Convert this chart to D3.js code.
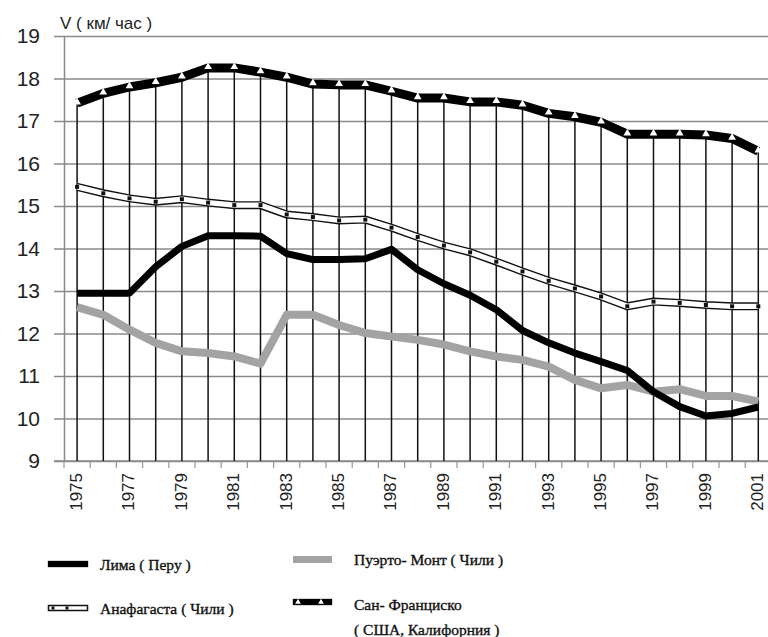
<!DOCTYPE html>
<html>
<head>
<meta charset="utf-8">
<script src="https://cdn.jsdelivr.net/npm/d3@7"></script>
<style>
  body { margin: 0; background: #fff; }
  svg { display: block; }
</style>
</head>
<body>
<script>
// years on the category axis
const years = d3.range(1975, 2002);
const yearLabels = years.filter(y => y % 2 === 1);
const yTicks = d3.range(9, 20);

// speed, km/h
const lima = [12.95, 12.95, 12.95, 13.57, 14.05, 14.3, 14.3, 14.29, 13.88, 13.74, 13.74, 13.76, 13.98,
  13.5, 13.17, 12.9, 12.56, 12.07, 11.78, 11.54, 11.34, 11.13, 10.63, 10.28, 10.06, 10.12, 10.27];
const puertoMontt = [12.62, 12.44, 12.09, 11.78, 11.58, 11.54, 11.46, 11.29, 12.44, 12.44, 12.2, 12.01, 11.93,
  11.85, 11.74, 11.58, 11.46, 11.38, 11.22, 10.91, 10.71, 10.79, 10.63, 10.69, 10.53, 10.53, 10.4];
const antofagasta = [15.45, 15.3, 15.18, 15.1, 15.16, 15.08, 15.02, 15.02, 14.8, 14.74, 14.66, 14.68, 14.49,
  14.27, 14.07, 13.91, 13.69, 13.46, 13.24, 13.06, 12.87, 12.64, 12.75, 12.72, 12.67, 12.64, 12.64];
const sanFrancisco = [17.42, 17.65, 17.8, 17.9, 18.03, 18.25, 18.25, 18.15, 18.03, 17.87, 17.85, 17.85, 17.7,
  17.54, 17.54, 17.45, 17.45, 17.37, 17.18, 17.1, 16.97, 16.69, 16.69, 16.69, 16.67, 16.59, 16.29];

const W = 768, H = 637;
const margin = { left: 64, top: 36, bottom: 461 };

const svg = d3.select('body').append('svg')
  .attr('width', W).attr('height', H);

const x = d3.scaleBand().domain(years).range([margin.left, margin.left + 27 * 26.2]).padding(0);
const cx = d => x(d) + x.bandwidth() / 2;
const y = d3.scaleLinear().domain([9, 19]).range([margin.bottom, margin.top]);

// horizontal grid + y labels
const yAxis = d3.axisLeft(y).tickValues(yTicks).tickSizeInner(-(W - margin.left)).tickSizeOuter(0).tickPadding(24);
const gy = svg.append('g').attr('transform', 'translate(' + margin.left + ',0)').call(yAxis);
gy.select('.domain').attr('stroke', '#888').attr('stroke-width', 1.5);
gy.selectAll('.tick line').attr('x1', -10).attr('stroke', '#8a8a8a').attr('stroke-width', 1.5);
gy.selectAll('.tick text')
  .attr('font-family', 'Liberation Sans, Arial, sans-serif')
  .attr('font-size', 21).attr('fill', '#222');

// bottom axis: ticks at category edges
const edges = years.map(d => x(d)).concat([x(2001) + x.bandwidth()]);
svg.append('g').selectAll('line').data(edges)
  .join('line')
  .attr('x1', d => d).attr('x2', d => d)
  .attr('y1', margin.bottom).attr('y2', margin.bottom + 7)
  .attr('stroke', '#999').attr('stroke-width', 1.2);

const xAxis = d3.axisBottom(x).tickValues(yearLabels).tickSize(0).tickPadding(0);
const gx = svg.append('g').attr('transform', 'translate(0,' + margin.bottom + ')').call(xAxis);
gx.select('.domain').remove();
gx.selectAll('.tick text')
  .attr('font-family', 'Liberation Sans, Arial, sans-serif')
  .attr('font-size', 17).attr('fill', '#222')
  .attr('text-anchor', 'end')
  .attr('y', 0).attr('dy', '0.35em')
  .attr('transform', 'translate(-1,12) rotate(-90)');

svg.append('line')
  .attr('x1', margin.left - 10).attr('x2', W).attr('y1', margin.bottom).attr('y2', margin.bottom)
  .attr('stroke', '#8a8a8a').attr('stroke-width', 1.5);

// title of y axis
svg.append('text')
  .attr('x', 60).attr('y', 29)
  .attr('font-family', 'Liberation Sans, Arial, sans-serif')
  .attr('font-size', 17).attr('fill', '#222')
  .text('V ( км/ час )');

// drop lines from San Francisco markers
svg.append('g').selectAll('line').data(years)
  .join('line')
  .attr('x1', d => cx(d)).attr('x2', d => cx(d))
  .attr('y1', (d, i) => y(sanFrancisco[i])).attr('y2', margin.bottom)
  .attr('stroke', '#111').attr('stroke-width', 1.5);

const line = d3.line().x((d, i) => cx(years[i])).y(d => y(d));

// Antofagasta: double line with dots
svg.append('path').attr('d', line(antofagasta))
  .attr('fill', 'none').attr('stroke', '#111').attr('stroke-width', 8);
svg.append('path').attr('d', line(antofagasta))
  .attr('fill', 'none').attr('stroke', '#fff').attr('stroke-width', 5.2);
svg.append('g').selectAll('rect').data(antofagasta)
  .join('rect')
  .attr('x', (d, i) => cx(years[i]) - 2).attr('y', d => y(d) - 2)
  .attr('width', 4).attr('height', 4).attr('fill', '#111');

// Puerto Montt
svg.append('path').attr('d', line(puertoMontt))
  .attr('fill', 'none').attr('stroke', '#a3a3a3').attr('stroke-width', 8)
  .attr('stroke-linejoin', 'round');

// Lima
svg.append('path').attr('d', line(lima))
  .attr('fill', 'none').attr('stroke', '#000').attr('stroke-width', 7)
  .attr('stroke-linejoin', 'round');

// San Francisco
svg.append('path').attr('d', line(sanFrancisco))
  .attr('fill', 'none').attr('stroke', '#000').attr('stroke-width', 9)
  .attr('stroke-linejoin', 'round');
const tri = d3.symbol().type(d3.symbolTriangle).size(26);
svg.append('g').selectAll('path').data(sanFrancisco)
  .join('path')
  .attr('d', tri)
  .attr('transform', (d, i) => 'translate(' + cx(years[i]) + ',' + (y(d) - 1) + ')')
  .attr('fill', '#fff');

// legend
const lg = svg.append('g')
  .attr('font-family', 'Liberation Serif, Times New Roman, serif')
  .attr('font-size', 15.5).attr('fill', '#111')
  .attr('stroke', '#111').attr('stroke-width', 0.35);

lg.append('rect').attr('x', 48).attr('y', 561).attr('width', 40).attr('height', 6).attr('fill', '#000');
lg.append('text').attr('x', 100).attr('y', 570).text('Лима ( Перу )');

lg.append('rect').attr('x', 48.5).attr('y', 605.5).attr('width', 39).attr('height', 5)
  .attr('fill', '#fff').attr('stroke', '#111').attr('stroke-width', 1.5);
lg.selectAll('.dot').data([53, 67]).join('rect')
  .attr('x', d => d - 1.5).attr('y', 606.5).attr('width', 3).attr('height', 3)
  .attr('fill', '#111').attr('stroke', 'none');
lg.append('text').attr('x', 100).attr('y', 614).text('Анафагаста ( Чили )');

lg.append('rect').attr('x', 293).attr('y', 556).attr('width', 39).attr('height', 7)
  .attr('fill', '#a3a3a3').attr('stroke', 'none');
lg.append('text').attr('x', 354).attr('y', 565).text('Пуэрто- Монт ( Чили )');

lg.append('rect').attr('x', 293).attr('y', 599).attr('width', 39).attr('height', 6).attr('fill', '#000');
lg.selectAll('.tri').data([298, 321]).join('path')
  .attr('d', d3.symbol().type(d3.symbolTriangle).size(14))
  .attr('transform', d => 'translate(' + d + ',602)').attr('fill', '#fff').attr('stroke', 'none');
lg.append('text').attr('x', 354).attr('y', 610).text('Сан- Франциско');
lg.append('text').attr('x', 354).attr('y', 635).text('( США, Калифорния )');
</script>
</body>
</html>
